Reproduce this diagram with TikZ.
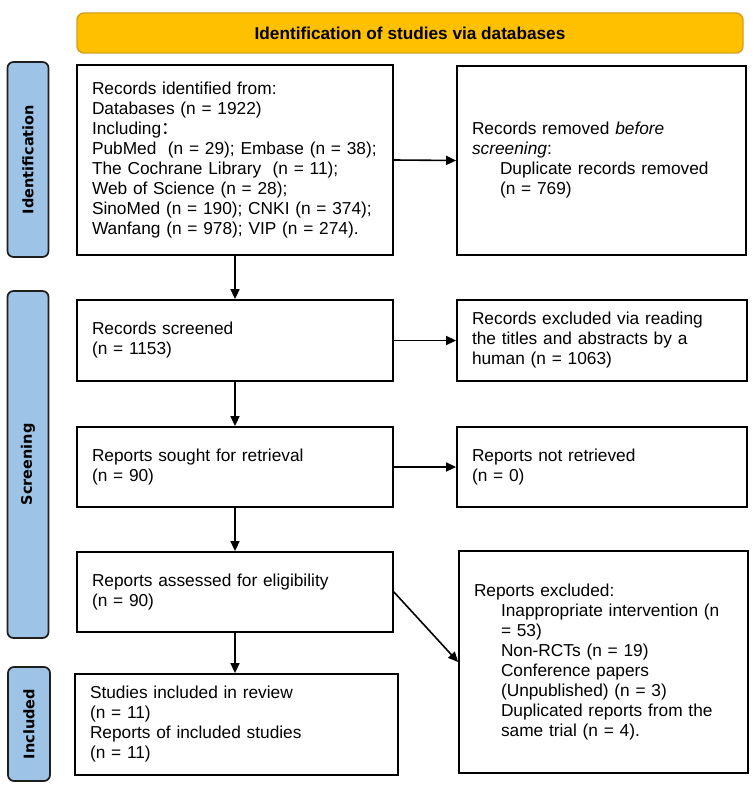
\documentclass[tikz,border=0pt]{standalone}
\usepackage{fontspec}
\setmainfont{Liberation Sans}
\newfontfamily\labelfont{DejaVu Sans}
\newfontfamily\cjkfont{Noto Sans CJK SC}
\usetikzlibrary{arrows.meta}
\definecolor{bannerfill}{RGB}{255,192,0}
\definecolor{bannerline}{RGB}{214,160,20}
\definecolor{barfill}{RGB}{157,195,230}
\definecolor{barline}{RGB}{30,30,30}
\tikzset{
  box/.style={draw=black, line width=1.8pt, rectangle, inner xsep=15pt, inner ysep=0pt,
    align=left, font=\fontsize{17.3}{20}\selectfont},
  banner/.style={draw=bannerline, fill=bannerfill, line width=1.4pt, rounded corners=7pt,
    font=\bfseries\fontsize{17.2}{20}\selectfont},
  phasebar/.style={draw=barline, fill=barfill, line width=1.7pt, rounded corners=6pt},
  phasetext/.style={rotate=90, font=\labelfont\bfseries\fontsize{14.5}{17}\selectfont},
  flow/.style={line width=1.6pt, -{Triangle[length=10pt,width=9pt]}}
}
\begin{document}
\begin{tikzpicture}[x=1pt,y=-1pt]
\useasboundingbox (0,0) rectangle (754,789);

% banner
\node[banner, minimum width=666pt, minimum height=40pt] (ban) at (410,33) {Identification of studies via databases};

% phase bars
\node[phasebar, minimum width=41pt, minimum height=195pt] (pid) at (28,159.5) {};
\node[phasetext] (tid) at (pid.center) {Identification};
\node[phasebar, minimum width=41pt, minimum height=347pt] (pscr) at (28,464.5) {};
\node[phasetext] (tscr) at (pscr.center) {Screening};
\node[phasebar, minimum width=42pt, minimum height=114pt] (pinc) at (29,724) {};
\node[phasetext] (tinc) at (pinc.center) {Included};

% boxes
\node[box, text width=286pt, minimum height=190pt] (b1) at (235,160) {Records identified from:\\
Databases (n = 1922)\\
Including{\cjkfont ：}\\
PubMed~ (n = 29); Embase (n = 38);\\
The Cochrane Library~ (n = 11);\\
Web of Science (n = 28);\\
SinoMed (n = 190); CNKI (n = 374);\\
Wanfang (n = 978); VIP (n = 274).};

\node[box, text width=259pt, minimum height=189pt] (b2) at (601.5,160.5) {Records removed \textit{before}\\
\textit{screening}:\\
\hspace*{28pt}Duplicate records removed\\
\hspace*{28pt}(n = 769)};

\node[box, text width=286pt, minimum height=81pt] (b3) at (235,340.5) {Records screened\\
(n = 1153)};

\node[box, text width=260pt, minimum height=81pt] (b4) at (602,340.5) {Records excluded via reading\\
the titles and abstracts by a\\
human (n = 1063)};

\node[box, text width=286pt, minimum height=80pt] (b5) at (235,467) {Reports sought for retrieval\\
(n = 90)};

\node[box, text width=260pt, minimum height=80pt] (b6) at (602,467) {Reports not retrieved\\
(n = 0)};

\node[box, text width=286pt, minimum height=80pt] (b7) at (235,592) {Reports assessed for eligibility\\
(n = 90)};

\node[box, text width=259pt, minimum height=222pt] (b8) at (603.5,662) {Reports excluded:\\
\hspace*{27pt}Inappropriate intervention (n\\
\hspace*{27pt}= 53)\\
\hspace*{27pt}Non-RCTs (n = 19)\\
\hspace*{27pt}Conference papers\\
\hspace*{27pt}(Unpublished) (n = 3)\\
\hspace*{27pt}Duplicated reports from the\\
\hspace*{27pt}same trial (n = 4).};

\node[box, text width=293pt, minimum height=101pt] (b9) at (236.5,724.5) {Studies included in review\\
(n = 11)\\
Reports of included studies\\
(n = 11)};

% connectors
\draw[flow] (b1.east) -- (b2.west);
\draw[flow] (b3.east) -- (b4.west);
\draw[flow] (b5.east) -- (b6.west);
\draw[flow] (b7.east) -- (b8.west);
\draw[flow] (b1.south) -- (b3.north);
\draw[flow] (b3.south) -- (b5.north);
\draw[flow] (b5.south) -- (b7.north);
\draw[flow] (b7.south) -- (b7.south |- b9.north);
\end{tikzpicture}
\end{document}
